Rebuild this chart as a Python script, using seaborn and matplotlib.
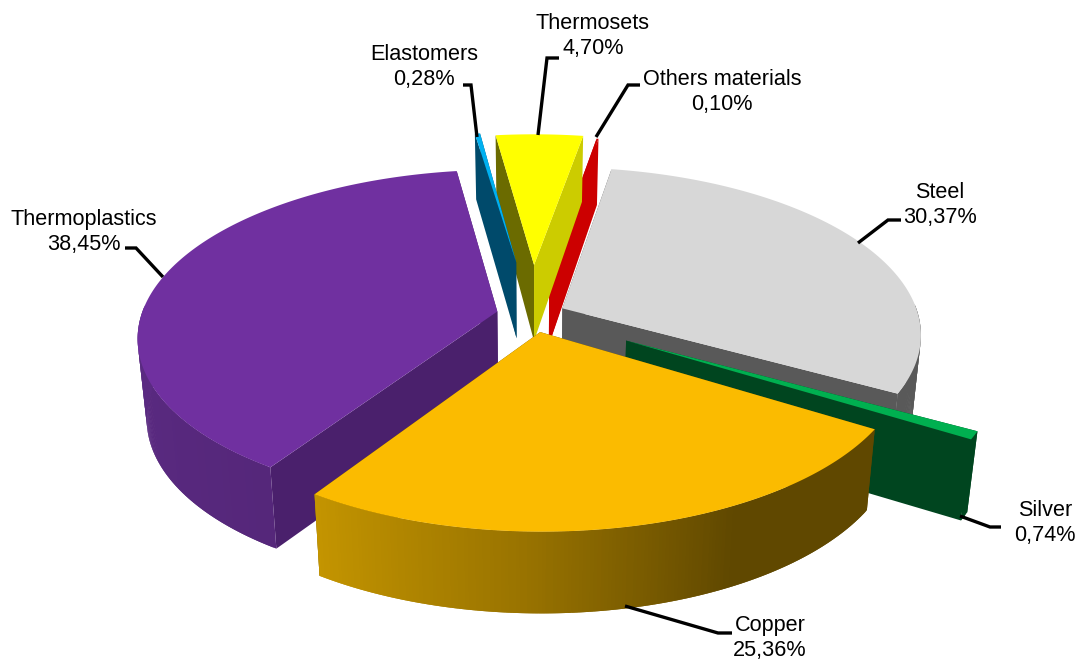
import numpy as np
import matplotlib
matplotlib.use("Agg")
import matplotlib.pyplot as plt
from matplotlib.patches import Polygon
import seaborn as sns

# ---- data ----
materials = ["Steel", "Silver", "Copper", "Thermoplastics", "Elastomers", "Thermosets", "Others materials"]
shares = [30.37, 0.74, 25.36, 38.45, 0.28, 4.70, 0.10]
share_labels = ["30,37%", "0,74%", "25,36%", "38,45%", "0,28%", "4,70%", "0,10%"]

# ---- style ----
top_colors = sns.color_palette(["#d7d7d7", "#00b050", "#fbbb00", "#7030a0", "#00b0f0", "#ffff00", "#cc0000"])
face_colors = ["#595959", "#00451f", "#614900", "#4a206c", "#004a6b", "#6b6b00", "#cc0000"]
face_colors_alt = ["#595959", "#00451f", "#614900", "#4a206c", "#004a6b", "#cccc00", "#cc0000"]
arc_ramps = [["#595959", "#595959"], ["#00451f", "#00451f"], ["#604800", "#604800", "#9a7400", "#c49500"],
             ["#55277a", "#643090"], ["#004a6b", "#004a6b"], ["#6b6b00", "#6b6b00"], ["#cc0000", "#cc0000"]]
explode = [0.095, 0.30, 0.105, 0.10, 0.34, 0.32, 0.30]
draw_order = [6, 5, 4, 0, 3, 1, 2]
start_angle = 9.9

# projection parameters (pixels)
CX, CY, RX, RY, K, HT, KH, VX = 532.0, 315.0, 356.0, 164.0, 0.15, 80.0, 0.163, 0.023


def project(x, y, z=0.0):
    s = 1.0 / (1.0 + K * y)
    h = HT / (1.0 + KH * y) if y > 0 else HT * (1.0 - 0.02 * y)
    return CX + RX * x * s * (1.0 - VX * z), CY - RY * y * s + h * z


sns.set_theme(style="white")
plt.rcParams["font.family"] = ["Liberation Sans", "DejaVu Sans"]
fig, ax = plt.subplots(figsize=(10.85, 6.61), dpi=100)
fig.subplots_adjust(0, 0, 1, 1)
ax.set_xlim(0, 1085)
ax.set_ylim(661, 0)
ax.axis("off")

bounds = start_angle + np.cumsum([0] + [v * 3.6 for v in shares])


def add(points, color, zorder):
    ax.add_patch(Polygon(points, closed=True, facecolor=color, edgecolor="none", lw=0, zorder=zorder))


z_now = 1
for i in draw_order:
    a0, a1 = bounds[i], bounds[i + 1]
    mid = np.radians((a0 + a1) / 2)
    ox, oy = explode[i] * np.sin(mid), explode[i] * np.cos(mid)
    th = np.radians(np.linspace(a0, a1, max(3, int(a1 - a0) * 2)))
    xs, ys = ox + np.sin(th), oy + np.cos(th)
    # radial faces, far one first
    faces = [(xs[0], ys[0], face_colors[i]), (xs[-1], ys[-1], face_colors_alt[i])]
    if ys[0] < ys[-1]:
        faces = faces[::-1]
    for fx, fy, col in faces:
        add([project(ox, oy, 0), project(fx, fy, 0), project(fx, fy, 1), project(ox, oy, 1)], col, z_now)
        z_now += 1
    # curved wall with a shading ramp: overlapping strips, front-facing part only
    ramp = sns.blend_palette(arc_ramps[i], n_colors=len(th))
    for j in range(len(th) - 1):
        if np.cos(th[j]) > 0.02 and np.cos(th[j + 1]) > 0.02:
            continue
        k = min(j + 2, len(th) - 1)
        add([project(xs[j], ys[j], 0), project(xs[k], ys[k], 0),
             project(xs[k], ys[k], 1), project(xs[j], ys[j], 1)], ramp[j], z_now)
    z_now += 1
    # top face
    add([project(ox, oy, 0)] + [project(a, b, 0) for a, b in zip(xs, ys)], top_colors[i], z_now)
    z_now += 1

# leader lines and labels
label_xy = [(940, 205), (1045, 523), (770, 638), (84, 232), (424, 67), (593, 36), (722, 92)]
leaders = [
    [(858, 243), (888, 220), (901, 220)],
    [(960, 516), (990, 527), (1001, 527)],
    [(625, 606), (718, 633), (732, 633)],
    [(163, 277), (136, 248), (125, 248)],
    [(477, 137), (471, 85), (463, 85)],
    [(538, 135), (547, 58), (559, 58)],
    [(596, 137), (628, 85), (640, 85)],
]
for name, pct, (tx, ty), path in zip(materials, share_labels, label_xy, leaders):
    ax.plot(*zip(*path), color="black", lw=2.4, solid_capstyle="butt", solid_joinstyle="miter", zorder=200)
    ax.text(tx, ty, f"{name}\n{pct}", ha="center", va="center", fontsize=15.6, color="black",
            linespacing=1.28, zorder=201)

fig.savefig("out.png", dpi=100, facecolor="white")
